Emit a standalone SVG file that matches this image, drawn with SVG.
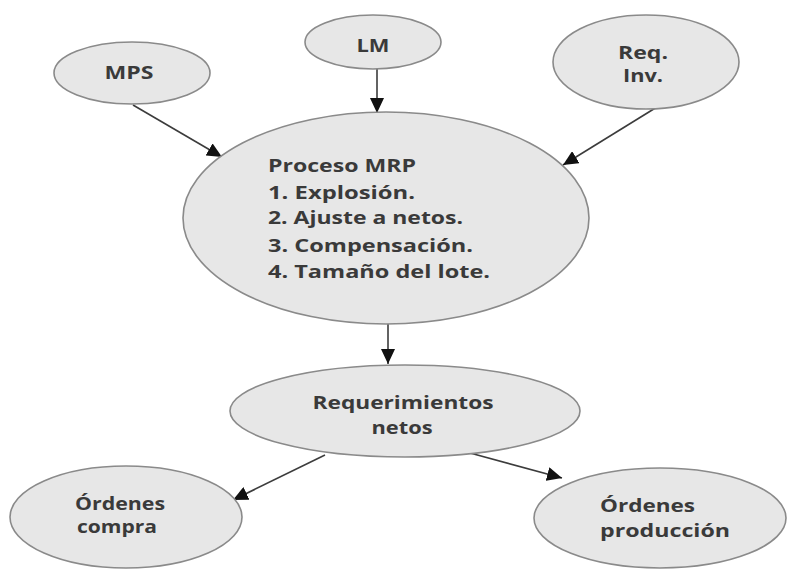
<svg xmlns="http://www.w3.org/2000/svg" width="789" height="569" viewBox="0 0 789 569">
  <style>
    .node ellipse { fill: #e7e7e7; stroke: #8a8a8a; stroke-width: 1.6; }
    .node text { font-family: "Open Sans", "Noto Sans", sans-serif; font-weight: 700; font-size: 18px; fill: #3a3a3a; }
    .mid { text-anchor: middle; }
    .edges line { stroke: #3c3c3c; stroke-width: 1.6; marker-end: url(#head); }
  </style>
  <defs>
    <marker id="head" markerUnits="userSpaceOnUse" markerWidth="16" markerHeight="14" refX="15" refY="7" orient="auto">
      <path d="M0,0 L15,7 L0,14 Z" fill="#111"/>
    </marker>
  </defs>
  <rect width="789" height="569" fill="#ffffff"/>

  <!-- connectors -->
  <g id="connectors" class="edges">
    <line x1="133" y1="105" x2="222" y2="157"/>
    <line x1="377" y1="68" x2="377" y2="113"/>
    <line x1="657" y1="107" x2="563" y2="165"/>
    <line x1="388" y1="324" x2="388" y2="364"/>
    <line x1="325" y1="455" x2="233" y2="500"/>
    <line x1="470" y1="453" x2="562" y2="478"/>
  </g>

  <g id="mps" class="node">
    <ellipse cx="132" cy="73" rx="78" ry="31"/>
    <text class="mid" x="129" y="79" textLength="49" lengthAdjust="spacingAndGlyphs">MPS</text>
  </g>

  <g id="lm" class="node">
    <ellipse cx="373" cy="42" rx="68" ry="27"/>
    <text class="mid" x="373" y="52" textLength="33" lengthAdjust="spacingAndGlyphs">LM</text>
  </g>

  <g id="req-inv" class="node">
    <ellipse cx="646" cy="62" rx="93" ry="47"/>
    <text class="mid" x="643" y="59" textLength="50" lengthAdjust="spacingAndGlyphs">Req.</text>
    <text class="mid" x="643" y="82" textLength="40" lengthAdjust="spacingAndGlyphs">Inv.</text>
  </g>

  <g id="proceso-mrp" class="node">
    <ellipse cx="386" cy="218" rx="203" ry="106"/>
    <text x="268" y="172" textLength="148" lengthAdjust="spacingAndGlyphs">Proceso MRP</text>
    <text x="268" y="199" textLength="147" lengthAdjust="spacingAndGlyphs">1. Explosión.</text>
    <text x="268" y="224" textLength="195" lengthAdjust="spacingAndGlyphs">2. Ajuste a netos.</text>
    <text x="268" y="252" textLength="205" lengthAdjust="spacingAndGlyphs">3. Compensación.</text>
    <text x="268" y="278" textLength="222" lengthAdjust="spacingAndGlyphs">4. Tamaño del lote.</text>
  </g>

  <g id="requerimientos-netos" class="node">
    <ellipse cx="405" cy="411" rx="175" ry="46"/>
    <text class="mid" x="403" y="409" textLength="181" lengthAdjust="spacingAndGlyphs">Requerimientos</text>
    <text class="mid" x="402" y="434" textLength="61" lengthAdjust="spacingAndGlyphs">netos</text>
  </g>

  <g id="ordenes-compra" class="node">
    <ellipse cx="126" cy="517" rx="116" ry="51"/>
    <text class="mid" x="120" y="510" textLength="90" lengthAdjust="spacingAndGlyphs">Órdenes</text>
    <text class="mid" x="117" y="533" textLength="80" lengthAdjust="spacingAndGlyphs">compra</text>
  </g>

  <g id="ordenes-produccion" class="node">
    <ellipse cx="660" cy="518" rx="126" ry="50"/>
    <text x="600" y="512" textLength="95" lengthAdjust="spacingAndGlyphs">Órdenes</text>
    <text x="600" y="537" textLength="130" lengthAdjust="spacingAndGlyphs">producción</text>
  </g>
</svg>
